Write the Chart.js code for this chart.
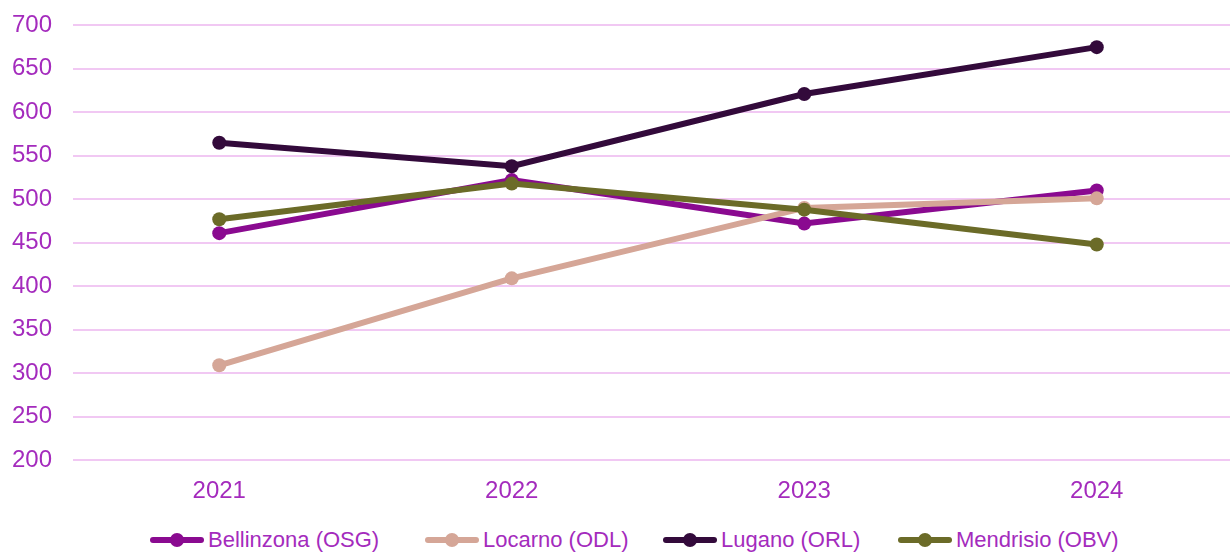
<!DOCTYPE html>
<html>
<head>
<meta charset="utf-8">
<script src="https://cdn.jsdelivr.net/npm/chart.js@4/dist/chart.umd.min.js"></script>
<style>
  html, body { margin: 0; padding: 0; background: #fff; overflow: hidden; }
  #wrap { position: relative; width: 1250px; height: 525px; margin-top: -10px; }
  #legend {
    position: absolute; top: 526px; left: 0; width: 1230px; height: 28px;
    font-family: 'Liberation Sans', Arial, sans-serif; font-size: 22px; color: #a42bbd;
  }
  .item { position: absolute; top: 0; display: flex; align-items: center; height: 28px; }
  .mark { position: relative; width: 54px; height: 28px; margin-right: 4px; }
  .mark .ln { position: absolute; left: 0; right: 0; top: 11px; height: 6px; border-radius: 3px; }
  .mark .dt { position: absolute; left: 20px; top: 7px; width: 14px; height: 14px; border-radius: 50%; }
</style>
</head>
<body>
<div id="wrap"><canvas id="chart" width="1250" height="525"></canvas></div>
<div id="legend"></div>
<script>
const years = ['2021', '2022', '2023', '2024'];
const seriesNames = ['Bellinzona (OSG)', 'Locarno (ODL)', 'Lugano (ORL)', 'Mendrisio (OBV)'];
const bellinzona = [461, 522, 472, 510];
const locarno = [309, 409, 490, 501];
const lugano = [565, 538, 621, 675];
const mendrisio = [477, 518, 488, 448];
const colors = ['#8a0a90', '#d5a697', '#330a3b', '#6b6b28'];
const legendX = [150, 425, 663, 898];

const values = [bellinzona, locarno, lugano, mendrisio];
const tickColor = '#a42bbd';
const gridColor = '#f1c8f3';
const tickFont = { family: "'Liberation Sans', Arial, sans-serif", size: 24 };

const ctx = document.getElementById('chart').getContext('2d');
new Chart(ctx, {
  type: 'line',
  data: {
    labels: years,
    datasets: values.map((v, i) => ({
      label: seriesNames[i],
      data: v,
      borderColor: colors[i],
      backgroundColor: colors[i],
      borderWidth: 6,
      pointRadius: 7,
      pointHoverRadius: 7,
      pointBorderWidth: 0,
      order: 4 - i
    }))
  },
  options: {
    responsive: false,
    animation: false,
    devicePixelRatio: 1,
    layout: { padding: { top: 15, left: 0, right: 0, bottom: 0 } },
    plugins: { legend: { display: false }, tooltip: { enabled: false } },
    scales: {
      x: {
        offset: true,
        grid: { display: false },
        border: { display: false },
        ticks: { color: tickColor, padding: 9, maxRotation: 0, font: tickFont },
        afterFit: (scale) => { scale.height = 55; }
      },
      y: {
        min: 200,
        max: 700,
        border: { display: false },
        grid: { color: gridColor, lineWidth: 2, drawTicks: false },
        ticks: { stepSize: 50, color: tickColor, padding: 21, font: tickFont },
        afterFit: (scale) => { scale.width = 73; }
      }
    }
  }
});

// legend below the chart, built from the same arrays
const legend = document.getElementById('legend');
seriesNames.forEach((name, i) => {
  const item = document.createElement('div');
  item.className = 'item';
  item.style.left = legendX[i] + 'px';
  item.innerHTML = '<div class="mark"><div class="ln" style="background:' + colors[i] + '"></div>' +
    '<div class="dt" style="background:' + colors[i] + '"></div></div><span>' + name + '</span>';
  legend.appendChild(item);
});
</script>
</body>
</html>
